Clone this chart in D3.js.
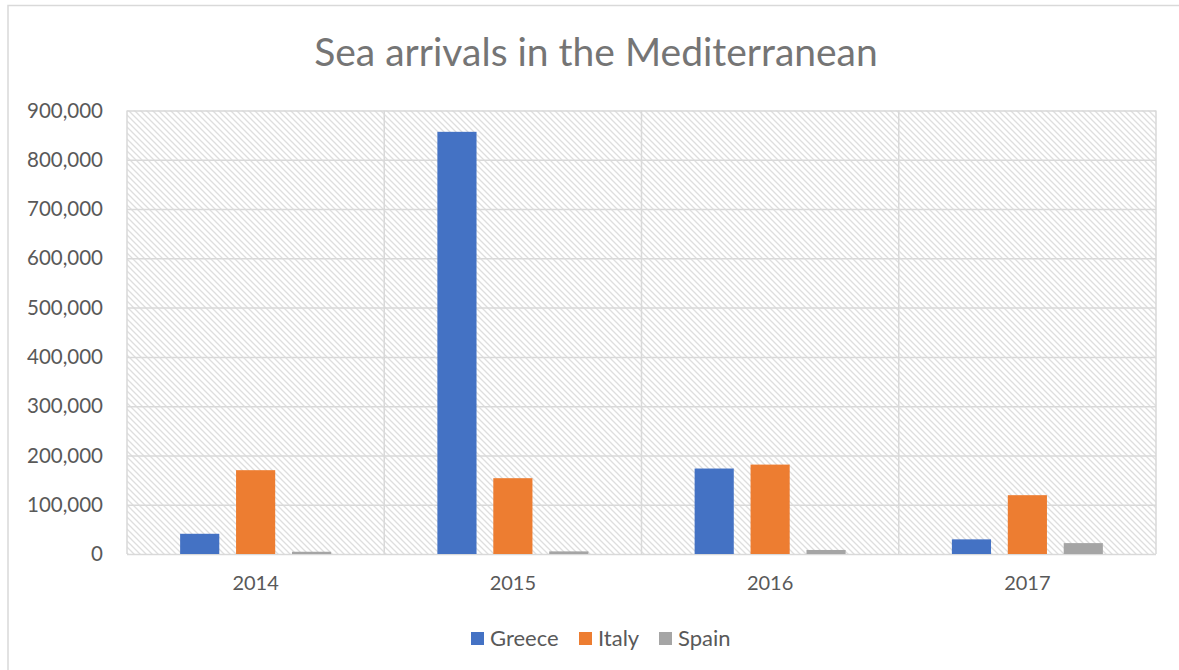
<!DOCTYPE html>
<html><head><meta charset="utf-8">
<script src="https://cdn.jsdelivr.net/npm/d3@7"></script>
<style>body{margin:0;background:#fff}svg{display:block}</style>
</head><body><svg id="c" width="1179" height="670"></svg>
<script>
const years = ["2014","2015","2016","2017"];
const seriesNames = ["Greece","Italy","Spain"];
const greece = [41038, 856723, 173450, 29718];
const italy = [170100, 153842, 181436, 119369];
const spain = [4552, 5312, 8162, 22108];
const colors = ["#4472C4","#ED7D31","#A5A5A5"];
const yTicks = [0,100000,200000,300000,400000,500000,600000,700000,800000,900000];
const title = "Sea arrivals in the Mediterranean";

const values = [greece, italy, spain];
const svg = d3.select("#c");
const font = "Lato, 'Open Sans', sans-serif";
const m = {l:127, r:1156, t:110.5, b:554};

// outer border
svg.append("rect").attr("x",8).attr("y",5.5).attr("width",1200).attr("height",700)
  .attr("fill","#fff").attr("stroke","#d9d9d9").attr("stroke-width",1.5);

const defs = svg.append("defs");
const pat = defs.append("pattern").attr("id","hatch").attr("patternUnits","userSpaceOnUse")
  .attr("width",6).attr("height",6);
pat.append("rect").attr("width",6).attr("height",6).attr("fill","#fff");
pat.append("path").attr("d","M-1,-1 L7,7 M-1,5 L1,7 M5,-1 L7,1").attr("stroke","#dedede").attr("stroke-width",1.3);

const x = d3.scaleBand().domain(years).range([m.l,m.r]);
const y = d3.scaleLinear().domain([0,900000]).range([m.b,m.t]);
const xi = d3.scaleBand().domain(seriesNames).range([0,x.bandwidth()]).paddingInner(0.3).paddingOuter(0.95);

svg.append("rect").attr("x",m.l).attr("y",m.t).attr("width",m.r-m.l).attr("height",m.b-m.t).attr("fill","url(#hatch)");

// gridlines
const ya = svg.append("g").attr("transform",`translate(${m.l},0)`)
  .call(d3.axisLeft(y).tickValues(yTicks).tickSize(-(m.r-m.l)).tickPadding(24).tickFormat(d3.format(",")));
ya.select(".domain").remove();
ya.selectAll(".tick line").attr("stroke","#d9d9d9").attr("stroke-width",1.5);
ya.selectAll(".tick text").attr("fill","#595959").style("font-family",font).style("font-size","20.5px");

// x axis labels
const xa = svg.append("g").attr("transform",`translate(0,${m.b})`)
  .call(d3.axisBottom(x).tickSize(0).tickPadding(22));
xa.select(".domain").remove();
xa.selectAll(".tick text").attr("fill","#595959").style("font-family",font).style("font-size","20px");
// vertical dividers
const divs = years.map(d=>x(d)).concat([m.r]);
svg.append("g").selectAll("line").data(divs).join("line")
  .attr("x1",d=>d).attr("x2",d=>d).attr("y1",m.t).attr("y2",m.b)
  .attr("stroke","#d9d9d9").attr("stroke-width",1.5);

// bars
seriesNames.forEach((s,si)=>{
  svg.append("g").selectAll("rect").data(years).join("rect")
    .attr("x",(d)=>x(d)+xi(s)).attr("width",xi.bandwidth())
    .attr("y",(d,i)=>y(values[si][i])).attr("height",(d,i)=>m.b-y(values[si][i]))
    .attr("fill",colors[si]);
});

// title
svg.append("text").attr("x",596).attr("y",66).attr("text-anchor","middle")
  .attr("fill","#757575").style("font-family",font).style("font-size","39px").text(title);

// legend
const legX = [471,579,659];
const lg = svg.append("g");
seriesNames.forEach((s,i)=>{
  lg.append("rect").attr("x",legX[i]).attr("y",632).attr("width",13).attr("height",13).attr("fill",colors[i]);
  lg.append("text").attr("x",legX[i]+19).attr("y",646).attr("fill","#595959")
    .style("font-family",font).style("font-size","22px").text(s);
});
</script></body></html>
